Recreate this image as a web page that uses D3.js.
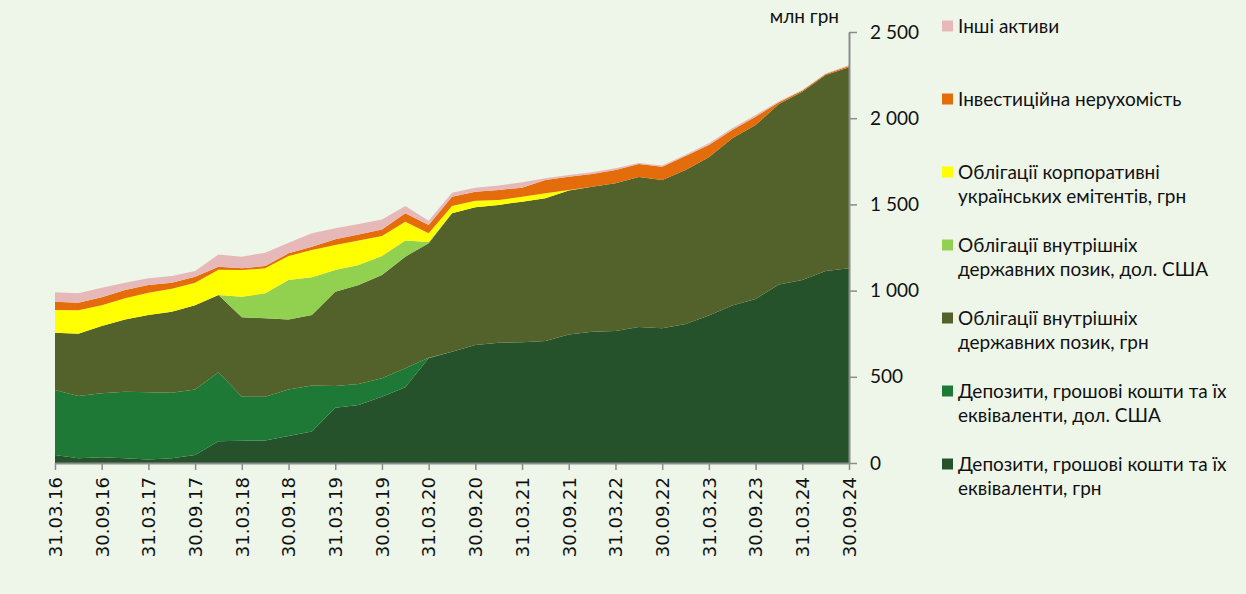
<!DOCTYPE html>
<html>
<head>
<meta charset="utf-8">
<script src="https://cdn.jsdelivr.net/npm/d3@7"></script>
<style>
  body { margin: 0; background: #eef6ea; }
  svg { display: block; }
</style>
</head>
<body>
<div id="chart"></div>
<script>
const quarters = [
  '31.03.16', '30.06.16', '30.09.16', '31.12.16',
  '31.03.17', '30.06.17', '30.09.17', '31.12.17',
  '31.03.18', '30.06.18', '30.09.18', '31.12.18',
  '31.03.19', '30.06.19', '30.09.19', '31.12.19',
  '31.03.20', '30.06.20', '30.09.20', '31.12.20',
  '31.03.21', '30.06.21', '30.09.21', '31.12.21',
  '31.03.22', '30.06.22', '30.09.22', '31.12.22',
  '31.03.23', '30.06.23', '30.09.23', '31.12.23',
  '31.03.24', '30.06.24', '30.09.24'
]

// млн грн, by quarter
const depositsUah = [46, 27, 33, 27, 21, 27, 46, 126, 129, 131, 157, 182, 321, 336, 385, 439, 607, 646, 684, 698, 700, 708, 746, 762, 766, 789, 781, 806, 855, 913, 951, 1036, 1061, 1114, 1129]
const depositsUsd = [377, 362, 371, 387, 389, 381, 381, 400, 256, 254, 270, 267, 126, 122, 106, 110, 3, 0, 0, 0, 0, 0, 0, 0, 0, 0, 0, 0, 0, 0, 0, 0, 0, 0, 0]
const ovdpUah = [333, 361, 391, 419, 448, 470, 488, 448, 460, 454, 406, 409, 547, 574, 599, 648, 664, 802, 799, 799, 816, 827, 834, 841, 856, 870, 860, 894, 918, 970, 1010, 1046, 1093, 1137, 1166]
const ovdpUsd = [0, 0, 0, 0, 0, 0, 0, 0, 120, 145, 228, 219, 125, 116, 111, 93, 8, 0, 0, 0, 0, 0, 0, 0, 0, 0, 0, 0, 0, 0, 0, 0, 0, 0, 0]
const corpBonds = [131, 136, 120, 122, 130, 133, 131, 147, 154, 145, 140, 158, 145, 142, 116, 110, 50, 43, 38, 28, 29, 29, 3, 0, 0, 0, 0, 0, 0, 0, 0, 0, 0, 0, 0]
const realEstate = [49, 44, 46, 48, 44, 35, 35, 18, 10, 14, 15, 20, 34, 36, 38, 48, 48, 54, 53, 59, 52, 77, 78, 73, 78, 75, 78, 81, 72, 49, 48, 10, 6, 5, 8]
const otherAssets = [54, 54, 56, 43, 39, 39, 33, 71, 68, 77, 62, 77, 63, 60, 58, 43, 25, 23, 23, 25, 31, 10, 10, 10, 9, 6, 6, 7, 9, 9, 10, 6, 4, 4, 6]

const yTicks = [0, 500, 1000, 1500, 2000, 2500]

const seriesInfo = [
  { key: 'depositsUah', values: depositsUah, color: '#25522a', label: ['Депозити, грошові кошти та їх', 'еквіваленти, грн'] },
  { key: 'depositsUsd', values: depositsUsd, color: '#1e7836', label: ['Депозити, грошові кошти та їх', 'еквіваленти, дол. США'] },
  { key: 'ovdpUah', values: ovdpUah, color: '#53622b', label: ['Облігації внутрішніх', 'державних позик, грн'] },
  { key: 'ovdpUsd', values: ovdpUsd, color: '#92d050', label: ['Облігації внутрішніх', 'державних позик, дол. США'] },
  { key: 'corpBonds', values: corpBonds, color: '#ffff00', label: ['Облігації корпоративні', 'українських емітентів, грн'] },
  { key: 'realEstate', values: realEstate, color: '#e46c0a', label: ['Інвестиційна нерухомість'] },
  { key: 'otherAssets', values: otherAssets, color: '#e6b9b8', label: ['Інші активи'] }
]

const width = 1246
const height = 594
const margin = { top: 32, right: 397, bottom: 131, left: 55 }
const LABEL_FONT = '19px Lato, "Open Sans", sans-serif'

const rows = quarters.map((q, i) => {
  const r = { q }
  seriesInfo.forEach(s => { r[s.key] = s.values[i] })
  return r
})

const stacked = d3.stack().keys(seriesInfo.map(s => s.key))(rows)

const x = d3.scalePoint()
  .domain(quarters)
  .range([margin.left, width - margin.right])

const y = d3.scaleLinear()
  .domain([0, 2500])
  .range([height - margin.bottom, margin.top])

const color = d3.scaleOrdinal()
  .domain(seriesInfo.map(s => s.key))
  .range(seriesInfo.map(s => s.color))

const svg = d3.select('#chart')
  .append('svg')
  .attr('width', width)
  .attr('height', height)

svg.append('rect')
  .attr('width', width)
  .attr('height', height)
  .attr('fill', '#eef6ea')

const area = d3.area()
  .x(d => x(d.data.q))
  .y0(d => y(d[0]))
  .y1(d => y(d[1]))

svg.append('g')
  .selectAll('path')
  .data(stacked)
  .join('path')
  .attr('fill', d => color(d.key))
  .attr('d', area)

const fmt = d3.formatLocale({ decimal: ',', thousands: ' ', grouping: [3], currency: ['', ''] }).format(',d')

// x axis
const xAxis = svg.append('g')
  .attr('transform', `translate(0,${height - margin.bottom})`)
  .call(d3.axisBottom(x)
    .tickValues(quarters.filter(q => q.startsWith('31.03') || q.startsWith('30.09')))
    .tickSize(7)
    .tickSizeOuter(0))
xAxis.select('.domain').attr('stroke', '#8c8c8c').attr('stroke-width', 2)
xAxis.selectAll('.tick line').attr('stroke', '#8c8c8c').attr('stroke-width', 1.5)
xAxis.selectAll('.tick text')
  .attr('transform', 'rotate(-90)')
  .attr('x', -14)
  .attr('y', 0)
  .attr('dy', '0.35em')
  .attr('text-anchor', 'end')
  .attr('fill', '#111')
  .style('font', '18px "DejaVu Sans", Verdana, sans-serif')

// y axis (right)
const yAxis = svg.append('g')
  .attr('transform', `translate(${width - margin.right},0)`)
  .call(d3.axisRight(y)
    .tickValues(yTicks)
    .tickFormat(fmt)
    .tickSize(8)
    .tickPadding(13)
    .tickSizeOuter(0))
yAxis.select('.domain').attr('stroke', '#8c8c8c').attr('stroke-width', 2)
yAxis.selectAll('.tick line').attr('stroke', '#8c8c8c').attr('stroke-width', 1.5)
yAxis.selectAll('.tick text')
  .attr('fill', '#111')
  .style('font', LABEL_FONT)

svg.append('text')
  .attr('x', 839)
  .attr('y', 23)
  .attr('text-anchor', 'end')
  .attr('fill', '#111')
  .style('font', LABEL_FONT)
  .text('млн грн')

// legend, top to bottom
const legend = svg.selectAll('.legend')
  .data(seriesInfo.slice().reverse())
  .join('g')
  .attr('class', 'legend')
  .attr('transform', (d, i) => `translate(942,${26 + i * 73})`)

legend.append('rect')
  .attr('x', 0)
  .attr('y', -5.5)
  .attr('width', 11)
  .attr('height', 11)
  .attr('fill', d => d.color)

legend.append('text')
  .attr('x', 16)
  .attr('y', 0)
  .attr('fill', '#111')
  .style('font', LABEL_FONT)
  .selectAll('tspan')
  .data(d => d.label)
  .join('tspan')
  .attr('x', 16)
  .attr('y', (d, i) => i * 24)
  .attr('dy', '0.35em')
  .text(d => d)
</script>
</body>
</html>
